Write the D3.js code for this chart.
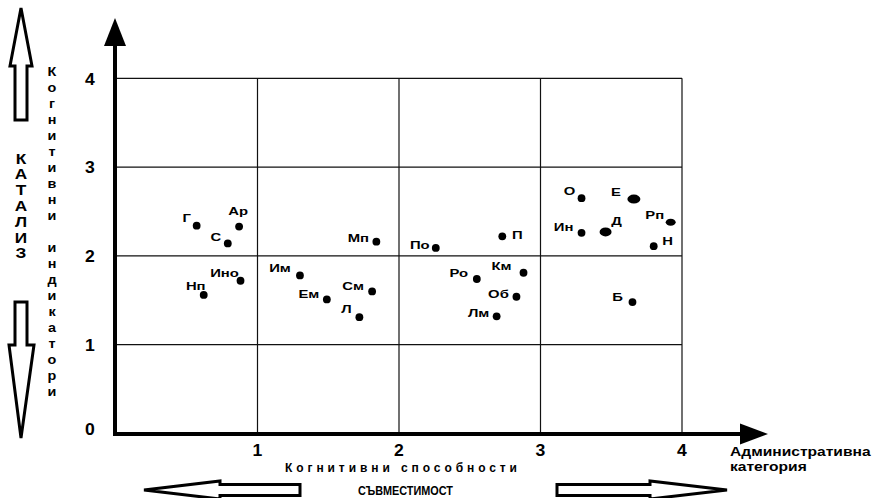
<!DOCTYPE html>
<html>
<head>
<meta charset="utf-8">
<script src="https://cdn.jsdelivr.net/npm/d3@7"></script>
<style>
  html, body { margin: 0; padding: 0; background: #fff; }
  svg { display: block; }
  text { font-family: "Liberation Sans", Arial, sans-serif; font-weight: bold; fill: #000; }
</style>
</head>
<body>
<svg id="chart" width="882" height="498"></svg>
<script>
// ---------- data ----------
const names = ["Г","Ар","С","Мп","Ино","Нп","Им","Ем","См","Л","По","П","Ро","Км","Об","Лм","О","Е","Ин","Д","Рп","Н","Б"];
const cognitive = [0.57,0.87,0.79,1.84,0.88,0.62,1.30,1.49,1.81,1.72,2.26,2.73,2.55,2.88,2.83,2.69,3.29,3.66,3.29,3.46,3.92,3.80,3.65];
const indicators = [2.34,2.33,2.14,2.16,1.72,1.56,1.78,1.51,1.60,1.31,2.09,2.22,1.74,1.81,1.54,1.32,2.65,2.64,2.26,2.27,2.38,2.11,1.48];
const xTicks = [1,2,3,4];
const yTicks = [0,1,2,3,4];
const xTitle = ["Административна","категория"];
const xSubtitle = "Когнитивни способности";
const bottomLabel = "СЪВМЕСТИМОСТ";
const yTitle = "Когнитивни индикатори";
const sideLabel = "КАТАЛИЗ";

// ---------- styling (label placement relative to dot, dot shapes) ----------
const labelOffset = {
  "Г":[-10,-7],"Ар":[-1,-15],"С":[-12,-6],"Мп":[-18,-3],"Ино":[-16,-8],"Нп":[-8,-9],
  "Им":[-20,-7],"Ем":[-18,-5],"См":[-19,-5],"Л":[-13,-8],"По":[-16,-3],"П":[15,-1],
  "Ро":[-18,-6],"Км":[-22,-7],"Об":[-18,-3],"Лм":[-18,-3],"О":[-12,-7],"Е":[-18,-7],
  "Ин":[-18,-6],"Д":[11,-11],"Рп":[-16,-7],"Н":[14,-5],"Б":[-15,-5]
};
const dotShape = { "Е":[6.5,4.5], "Д":[6,4.5], "Рп":[5,3.5] };

const svg = d3.select("#chart");
const x = d3.scaleLinear().domain([0,4]).range([116,682]);
const y = d3.scaleLinear().domain([0,4]).range([433.5,78.3]);

function stretchText(g, px, py, str, size, sx, anchor) {
  return g.append("text")
    .attr("transform", `translate(${px},${py}) scale(${sx},1)`)
    .attr("text-anchor", anchor || "middle")
    .attr("dominant-baseline", "central")
    .style("font-size", size + "px")
    .text(str);
}

// grid
const grid = svg.append("g").attr("stroke", "#111").attr("stroke-width", 1.2);
grid.selectAll("line.v").data(xTicks).join("line")
  .attr("x1", d => x(d)).attr("x2", d => x(d))
  .attr("y1", y(0)).attr("y2", y(4));
grid.selectAll("line.h").data(yTicks.filter(d => d > 0)).join("line")
  .attr("x1", x(0)).attr("x2", x(4))
  .attr("y1", d => y(d)).attr("y2", d => y(d));

// axes (thick with arrowheads)
const ax = svg.append("g");
ax.append("line").attr("x1", x(0) - 1).attr("x2", x(0) - 1)
  .attr("y1", y(0) + 2.5).attr("y2", 42).attr("stroke", "#000").attr("stroke-width", 4);
ax.append("path").attr("d", `M${x(0)-12},46 L${x(0)+10},46 L${x(0)-1},18 Z`).attr("fill", "#000");
ax.append("line").attr("x1", x(0) - 3).attr("x2", 744)
  .attr("y1", y(0) + 0.5).attr("y2", y(0) + 0.5).attr("stroke", "#000").attr("stroke-width", 4);
ax.append("path").attr("d", `M740,${y(0)-10} L740,${y(0)+11} L768,${y(0)+0.5} Z`).attr("fill", "#000");

// tick labels
const tl = svg.append("g");
yTicks.forEach(v => stretchText(tl, 90, y(v) + (v === 0 ? -4 : 1), String(v), 16, 1.1));
xTicks.forEach(v => stretchText(tl, x(v), 451, String(v), 16, 1.1));

// x titles
stretchText(svg, 730, 451, xTitle[0], 13, 1.2, "start");
stretchText(svg, 730, 466, xTitle[1], 13, 1.2, "start");
svg.append("text").attr("x", 285).attr("y", 468)
  .attr("dominant-baseline", "central")
  .attr("textLength", 232).attr("lengthAdjust", "spacing")
  .style("font-size", "12px").text(xSubtitle);
svg.append("text").attr("x", 358).attr("y", 491)
  .attr("dominant-baseline", "central")
  .attr("textLength", 95).attr("lengthAdjust", "spacingAndGlyphs")
  .style("font-size", "12px").text(bottomLabel);

// vertical letter stacks
const yt = svg.append("g");
const chars = Array.from(yTitle);
chars.forEach((c, i) => { if (c !== " ") stretchText(yt, 52, 72 + i * 16, c, 12, 1.2); });
Array.from(sideLabel).forEach((c, i) => stretchText(yt, 21, 158 + i * 15.8, c, 15, 1.15));

// hollow arrows
const arrows = svg.append("g").attr("fill", "#fff").attr("stroke", "#000").attr("stroke-width", 3).attr("stroke-linejoin", "miter");
arrows.append("path").attr("d", "M21,8 L32,66 L27,66 L27,120 L15,120 L15,66 L10,66 Z");
arrows.append("path").attr("d", "M15,302 L27,302 L27,345 L34,345 L21,438 L9,345 L15,345 Z");
arrows.append("path").attr("d", "M144,490 L220,481 L220,484.5 L300,484.5 L300,495.5 L220,495.5 L220,499 Z");
arrows.append("path").attr("d", "M557,484.5 L650,484.5 L650,481 L727,490 L650,499 L650,495.5 L557,495.5 Z");

// points
const pts = names.map((n, i) => ({ n, cx: x(cognitive[i]), cy: y(indicators[i]) }));
svg.append("g").selectAll("ellipse").data(pts).join("ellipse")
  .attr("cx", d => d.cx).attr("cy", d => d.cy)
  .attr("rx", d => (dotShape[d.n] || [3.9,3.9])[0])
  .attr("ry", d => (dotShape[d.n] || [3.9,3.9])[1])
  .attr("fill", "#000");
const lg = svg.append("g");
pts.forEach(d => {
  const o = labelOffset[d.n];
  stretchText(lg, d.cx + o[0], d.cy + o[1], d.n, 11, 1.35);
});
</script>
</body>
</html>
